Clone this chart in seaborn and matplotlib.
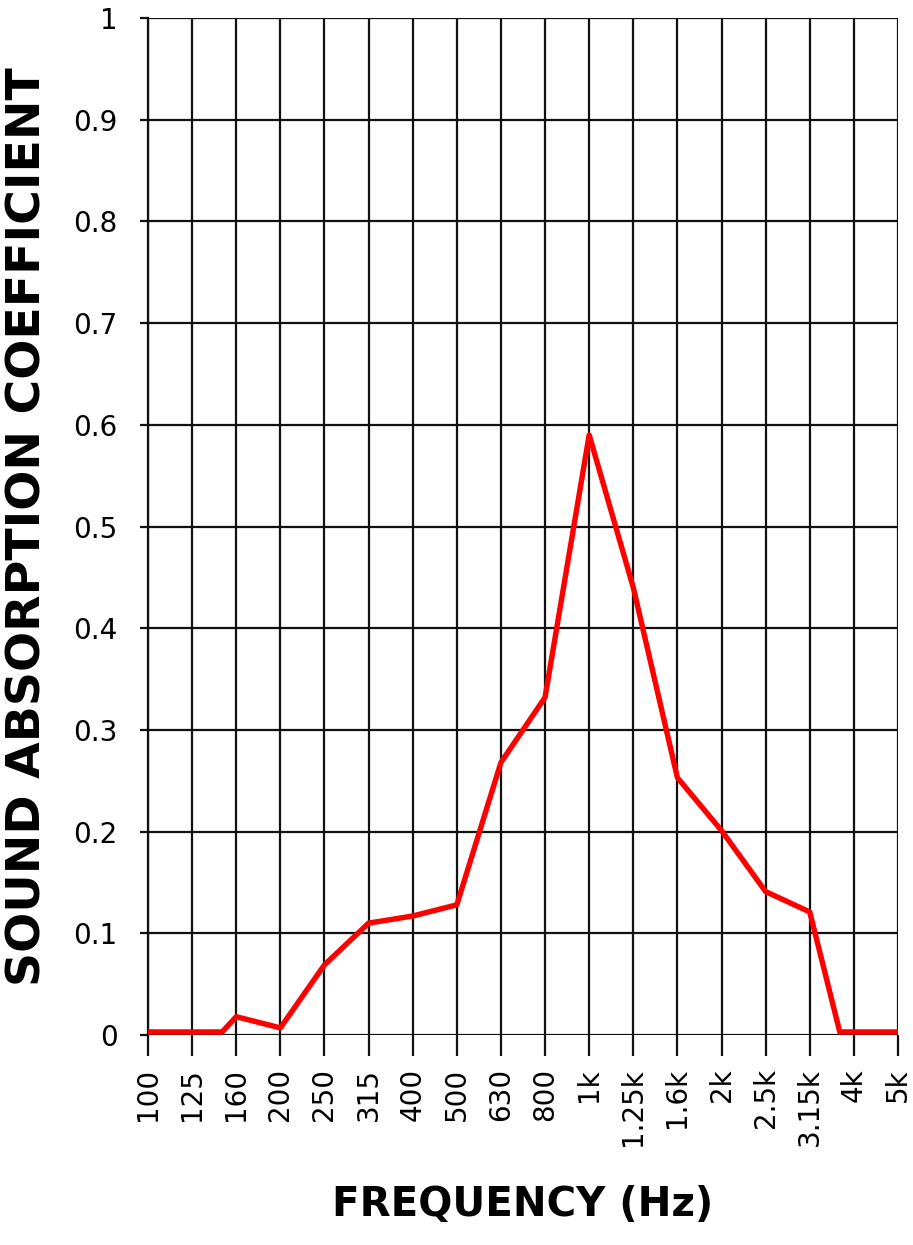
import matplotlib
matplotlib.use('Agg')
import matplotlib.pyplot as plt
import seaborn as sns
import pandas as pd

# third-octave bands shown on the x axis
band_labels = ['100', '125', '160', '200', '250', '315', '400', '500', '630',
               '800', '1k', '1.25k', '1.6k', '2k', '2.5k', '3.15k', '4k', '5k']

# measured curve (x given as band index, a few points fall between bands)
band_pos = [0, 1, 1.68, 2, 3, 4, 5, 6, 7, 8, 9, 10, 11, 12, 13, 14, 15, 15.68, 16, 17]
absorption = [0.003, 0.003, 0.003, 0.018, 0.007, 0.069, 0.110, 0.117, 0.128, 0.268,
              0.332, 0.590, 0.440, 0.253, 0.201, 0.141, 0.121, 0.003, 0.003, 0.003]

y_ticks = [0, 0.1, 0.2, 0.3, 0.4, 0.5, 0.6, 0.7, 0.8, 0.9, 1]
y_labels = ['0', '0.1', '0.2', '0.3', '0.4', '0.5', '0.6', '0.7', '0.8', '0.9', '1']

sns.set_style('white')
plt.rcParams['font.family'] = ['DejaVu Sans']
plt.rcParams['text.color'] = 'black'
plt.rcParams['axes.labelcolor'] = 'black'
plt.rcParams['xtick.color'] = 'black'
plt.rcParams['ytick.color'] = 'black'

df = pd.DataFrame({'band': band_pos, 'alpha': absorption})

fig = plt.figure(figsize=(9.13, 12.45), dpi=100)
ax = fig.add_axes([148 / 913, 1 - 1035 / 1245, 750 / 913, 1017 / 1245])

sns.lineplot(data=df, x='band', y='alpha', ax=ax, color='#ff0000',
             linewidth=3.9, sort=False, zorder=3)

ax.set_xlim(0, 17)
ax.set_ylim(0, 1)
ax.set_xticks(range(len(band_labels)))
ax.set_xticklabels(band_labels, rotation=90, fontsize=20)
ax.set_yticks(y_ticks)
ax.set_yticklabels(y_labels, fontsize=20)

ax.grid(True, color='#111111', linewidth=1.6)
for s in ax.spines.values():
    s.set_visible(False)
ax.spines['left'].set_visible(True)
ax.spines['left'].set_color('#111111')
ax.spines['left'].set_linewidth(1.6)

ax.tick_params(axis='x', length=15, width=1.6, color='#111111', pad=9, bottom=True)
ax.tick_params(axis='y', length=6, width=1.6, color='#111111', pad=16, left=True)

ax.set_xlabel('FREQUENCY (Hz)', fontsize=29, fontweight='bold', labelpad=28)
ax.set_ylabel('SOUND ABSORPTION COEFFICIENT', fontsize=34, fontweight='bold', labelpad=16)

fig.savefig('out.png', dpi=100)
